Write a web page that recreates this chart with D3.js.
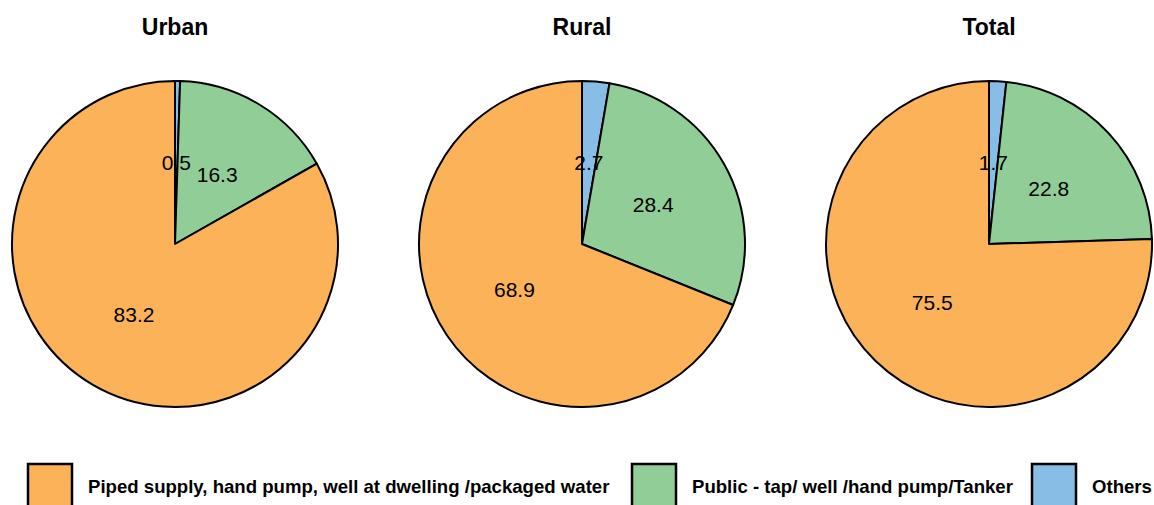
<!DOCTYPE html>
<html><head><meta charset="utf-8">
<script src="https://cdn.jsdelivr.net/npm/d3@7"></script>
<style>body{margin:0;background:#fff}svg{display:block}</style>
</head><body>
<svg id="c" width="1154" height="505"></svg>
<script>
const panels = ["Urban", "Rural", "Total"];
const categories = ["Others", "Public - tap/ well /hand pump/Tanker", "Piped supply, hand pump, well at dwelling /packaged water"];
const othersVals = [0.5, 2.7, 1.7];
const publicVals = [16.3, 28.4, 22.8];
const pipedVals = [83.2, 68.9, 75.5];
const colors = ["#88BDE6", "#90CD97", "#FBB258"];
const legendOrder = [2, 1, 0];

const svg = d3.select("#c");
const cx = d3.scalePoint().domain(panels).range([175, 989]);
const R = 163, cy = 244;
const pie = d3.pie().sort(null).value(d => d.v);
const arc = d3.arc().innerRadius(0).outerRadius(R);
const lab = d3.arc().innerRadius(R/2).outerRadius(R/2);
const FF = "Liberation Sans, Arial, sans-serif";

panels.forEach((p, i) => {
  const data = [
    {k: 0, v: othersVals[i]},
    {k: 1, v: publicVals[i]},
    {k: 2, v: pipedVals[i]}
  ];
  const g = svg.append("g").attr("transform", `translate(${cx(p)},${cy})`);
  const arcs = pie(data);
  g.selectAll("path").data(arcs).join("path")
    .attr("d", arc).attr("fill", d => colors[d.data.k])
    .attr("stroke", "#000").attr("stroke-width", 2).attr("stroke-linejoin", "round");
  g.selectAll("text").data(arcs).join("text")
    .attr("transform", d => `translate(${lab.centroid(d)})`)
    .attr("text-anchor", "middle").attr("dy", "0.35em")
    .attr("font-family", FF).attr("font-size", 21)
    .text(d => d.data.v.toFixed(1));
  svg.append("text").attr("x", cx(p)).attr("y", 35).attr("text-anchor", "middle")
    .attr("font-family", FF).attr("font-size", 23)
    .attr("font-weight", "bold").text(p);
});

const legX = [28, 632, 1032];
legendOrder.forEach((k, j) => {
  svg.append("rect").attr("x", legX[j]).attr("y", 464).attr("width", 44).attr("height", 50)
    .attr("fill", colors[k]).attr("stroke", "#000").attr("stroke-width", 2.5);
  svg.append("text").attr("x", legX[j] + 60).attr("y", 493)
    .attr("font-family", FF).attr("font-size", 18.6)
    .attr("font-weight", "bold").text(categories[k]);
});
</script>
</body></html>
